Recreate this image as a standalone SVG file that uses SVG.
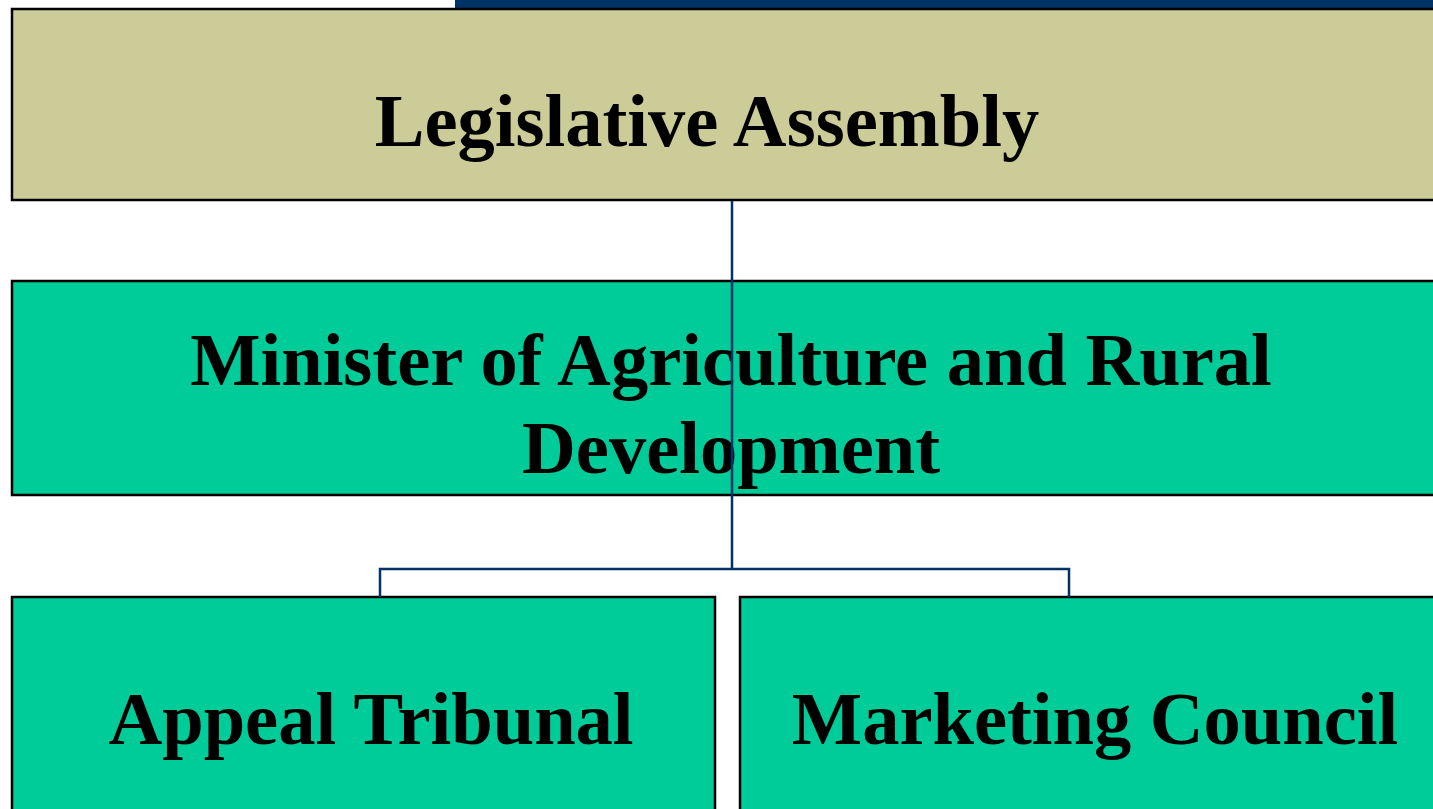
<svg xmlns="http://www.w3.org/2000/svg" width="1433" height="809" viewBox="0 0 1433 809">
<style>
.box{stroke:#000;stroke-width:2.5}
.t{font-family:"Liberation Serif","Times New Roman",serif;font-weight:bold;font-size:74.5px;fill:#000;text-anchor:middle}
.c{fill:none;stroke:#003366;stroke-width:2.5}
</style>
<rect x="455" y="0" width="978" height="9" fill="#003366"/>
<g id="legislative-assembly">
<rect class="box" x="12" y="9" width="1440" height="191" fill="#CCCC99"/>
<text class="t" x="707" y="146">Legislative Assembly</text>
</g>
<g id="minister">
<rect class="box" x="12" y="281" width="1440" height="214" fill="#00CC99"/>
<text class="t" x="731" y="385">Minister of Agriculture and Rural</text>
<text class="t" x="731" y="473">Development</text>
</g>
<g id="appeal-tribunal">
<rect class="box" x="12" y="597" width="703" height="230" fill="#00CC99"/>
<text class="t" x="371" y="744">Appeal Tribunal</text>
</g>
<g id="marketing-council">
<rect class="box" x="740" y="597" width="720" height="230" fill="#00CC99"/>
<text class="t" x="1095" y="744">Marketing Council</text>
</g>
<g id="connectors">
<path class="c" d="M732 201 V569"/>
<path class="c" d="M380 597 V569 H1069 V597"/>
</g>
</svg>
